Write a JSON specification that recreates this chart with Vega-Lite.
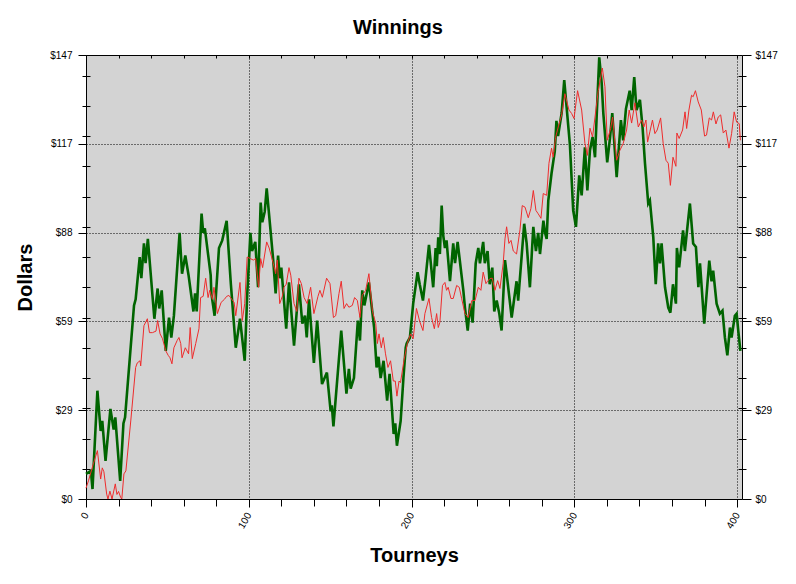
{
  "$schema": "https://vega.github.io/schema/vega-lite/v6.json",
  "width": 656,
  "height": 444,
  "autosize": {"type": "none"},
  "padding": {"left": 86, "top": 55, "right": 54, "bottom": 85},
  "background": "white",
  "view": {"fill": "#d3d3d3", "stroke": "#000000", "strokeWidth": 1},
  "title": {"text": "Winnings", "font": "Liberation Sans", "fontSize": 20, "fontWeight": "bold", "color": "#000000", "anchor": "middle", "frame": "group", "dx": -16, "offset": 12},
  "config": {
    "font": "Liberation Sans",
    "axis": {"labelFont": "Liberation Sans", "labelFontSize": 10, "labelColor": "#000000", "tickColor": "#000000", "tickWidth": 1, "domain": false, "titleFont": "Liberation Sans", "titleColor": "#000000"}
  },
  "datasets": {
    "green": [
      {"t":0,"v":8.3},{"t":3,"v":9.3},{"t":4,"v":3.3},{"t":7,"v":35.8},{"t":9,"v":22.5},{"t":10,"v":25.8},{"t":12,"v":12.6},{"t":15,"v":29.8},{"t":17,"v":23},{"t":18,"v":27},{"t":21,"v":6},{"t":23,"v":25},{"t":24,"v":27},{"t":29.5,"v":64},{"t":30.5,"v":66},{"t":33,"v":80},{"t":34,"v":73},{"t":35.6,"v":84.5},{"t":36.6,"v":78},{"t":38,"v":86},{"t":42,"v":59.6},{"t":44,"v":69.6},{"t":45,"v":63},{"t":46.5,"v":69},{"t":49,"v":49},{"t":51,"v":60},{"t":52.4,"v":53.4},{"t":54,"v":60.6},{"t":57.5,"v":88},{"t":59,"v":74.5},{"t":61,"v":80.5},{"t":63,"v":74},{"t":66,"v":62},{"t":67,"v":68},{"t":68,"v":62},{"t":71,"v":94.4},{"t":72,"v":88},{"t":73,"v":89.5},{"t":76.6,"v":74},{"t":77,"v":68},{"t":79,"v":60.6},{"t":81.7,"v":83},{"t":83.7,"v":85.5},{"t":86.4,"v":92},{"t":89,"v":71},{"t":92,"v":50},{"t":94.6,"v":59.6},{"t":97.5,"v":45.7},{"t":99,"v":67},{"t":101,"v":88},{"t":102,"v":82},{"t":104,"v":85},{"t":105.7,"v":70},{"t":107.3,"v":98},{"t":108.3,"v":91.5},{"t":109.8,"v":95},{"t":111,"v":102.7},{"t":113.5,"v":88},{"t":115,"v":79},{"t":116.5,"v":68},{"t":118,"v":80.5},{"t":119,"v":73},{"t":120,"v":76.5},{"t":123,"v":56.3},{"t":124.7,"v":71.6},{"t":127.8,"v":50.7},{"t":130.8,"v":71},{"t":132.9,"v":58},{"t":134.5,"v":60.6},{"t":135.6,"v":53.4},{"t":137,"v":66},{"t":140,"v":45},{"t":142,"v":59},{"t":145,"v":38},{"t":148,"v":41.8},{"t":150.3,"v":29},{"t":151,"v":31},{"t":152,"v":24},{"t":156.8,"v":55.7},{"t":160,"v":34.8},{"t":161.5,"v":43},{"t":162.6,"v":36.5},{"t":164.6,"v":40},{"t":167,"v":59},{"t":168.3,"v":52.4},{"t":169.7,"v":69},{"t":171,"v":64},{"t":173.8,"v":71.6},{"t":177,"v":56.7},{"t":178.5,"v":43.5},{"t":179.7,"v":47},{"t":181,"v":40},{"t":182.8,"v":45.7},{"t":185,"v":32.5},{"t":186.5,"v":41.4},{"t":189,"v":21.5},{"t":190,"v":25},{"t":191,"v":17.6},{"t":193.3,"v":25.8},{"t":195,"v":40},{"t":196.4,"v":50},{"t":197,"v":51.4},{"t":199,"v":53.4},{"t":201,"v":64.6},{"t":203.7,"v":75},{"t":205,"v":71},{"t":207,"v":65.6},{"t":208.6,"v":73},{"t":210.7,"v":84},{"t":213.3,"v":70},{"t":214.8,"v":83},{"t":215.5,"v":77},{"t":216.4,"v":86.5},{"t":217.4,"v":81},{"t":218.5,"v":97},{"t":219.5,"v":87},{"t":220.5,"v":83},{"t":221.5,"v":85.5},{"t":223.6,"v":72},{"t":225.6,"v":84.5},{"t":226.7,"v":78},{"t":228.3,"v":85},{"t":231.8,"v":69},{"t":232.8,"v":63.3},{"t":234.5,"v":55.7},{"t":236,"v":64.6},{"t":237.5,"v":58.3},{"t":239.4,"v":77.9},{"t":241,"v":83},{"t":242,"v":77.9},{"t":244,"v":85},{"t":245,"v":78},{"t":246.7,"v":82},{"t":248,"v":71},{"t":249.6,"v":76.5},{"t":250.8,"v":62},{"t":252.3,"v":65.6},{"t":253.9,"v":61.3},{"t":255.3,"v":55.7},{"t":257.4,"v":79},{"t":258.4,"v":74.5},{"t":261.5,"v":60},{"t":264.5,"v":72},{"t":265.5,"v":65.6},{"t":269.2,"v":91},{"t":270.7,"v":84.5},{"t":272.7,"v":70},{"t":274.8,"v":90},{"t":276.4,"v":82},{"t":277.8,"v":88},{"t":278.9,"v":81},{"t":281,"v":92},{"t":282,"v":88},{"t":283,"v":86},{"t":284,"v":98.7},{"t":286,"v":107.7},{"t":288,"v":115},{"t":289,"v":125},{"t":290,"v":120},{"t":292.2,"v":127.6},{"t":293.8,"v":138.5},{"t":297.3,"v":117},{"t":299.3,"v":95.4},{"t":301,"v":90},{"t":303,"v":107},{"t":304.5,"v":100.4},{"t":306.5,"v":116.3},{"t":308,"v":102},{"t":309.6,"v":115.3},{"t":311.2,"v":119.7},{"t":312.7,"v":113},{"t":313.7,"v":126.3},{"t":315.3,"v":146},{"t":316.8,"v":137.5},{"t":317.8,"v":127.6},{"t":320.2,"v":111.3},{"t":321.9,"v":119.3},{"t":323.3,"v":127.6},{"t":326,"v":106.4},{"t":328.6,"v":125.3},{"t":330,"v":118.6},{"t":331.7,"v":129},{"t":334,"v":135},{"t":335.2,"v":128.6},{"t":336.8,"v":139.5},{"t":338.2,"v":128.6},{"t":340.3,"v":132},{"t":341.9,"v":123},{"t":343.4,"v":111},{"t":345.4,"v":97.7},{"t":346.4,"v":98.7},{"t":348.5,"v":86.5},{"t":350,"v":71},{"t":351.5,"v":84.5},{"t":352.6,"v":77.9},{"t":353.6,"v":84.5},{"t":355.7,"v":70},{"t":357.7,"v":63.3},{"t":359,"v":61.6},{"t":360.6,"v":71},{"t":362.4,"v":64.6},{"t":363,"v":83},{"t":364.4,"v":76.6},{"t":366.8,"v":88.8},{"t":367.9,"v":82},{"t":371,"v":97.7},{"t":373,"v":84.5},{"t":374.7,"v":83.3},{"t":376.2,"v":70},{"t":377.2,"v":77.9},{"t":379.8,"v":58},{"t":382.9,"v":78.8},{"t":384.3,"v":72},{"t":385.3,"v":75.5},{"t":387.4,"v":64.6},{"t":389.4,"v":61.3},{"t":391,"v":62.3},{"t":392.5,"v":53.4},{"t":394,"v":47.5},{"t":395.6,"v":56.7},{"t":396.6,"v":53.4},{"t":398.6,"v":60.6},{"t":399.7,"v":61.3},{"t":400.7,"v":55.7},{"t":402,"v":49}
    ],
    "red": [
      {"t":0,"v":3.6},{"t":1.5,"v":6},{"t":4.5,"v":11.6},{"t":7,"v":16},{"t":9,"v":6.6},{"t":10,"v":10.3},{"t":11,"v":9},{"t":12.7,"v":1.6},{"t":13.5,"v":0},{"t":14.7,"v":2.6},{"t":16,"v":0},{"t":18,"v":5},{"t":19,"v":1.5},{"t":20,"v":2.5},{"t":21.3,"v":0.5},{"t":22,"v":0},{"t":23.3,"v":8.3},{"t":24.5,"v":9.3},{"t":27.5,"v":25.8},{"t":30.5,"v":43.5},{"t":31.5,"v":45},{"t":33.2,"v":45.7},{"t":33.6,"v":44},{"t":35.6,"v":57.3},{"t":37.7,"v":59.6},{"t":39,"v":55},{"t":40.8,"v":55},{"t":43,"v":55.5},{"t":44,"v":59},{"t":45.5,"v":54.6},{"t":47,"v":53},{"t":49,"v":49},{"t":50.5,"v":47.5},{"t":51.6,"v":46.7},{"t":52.8,"v":44.7},{"t":54,"v":50},{"t":56,"v":52.4},{"t":57.1,"v":53.4},{"t":58.2,"v":51.4},{"t":59,"v":46.7},{"t":61,"v":50},{"t":63,"v":48},{"t":64,"v":56.7},{"t":65.3,"v":46.4},{"t":67.4,"v":51.4},{"t":69.4,"v":56.3},{"t":70.4,"v":66.6},{"t":72,"v":67},{"t":73.5,"v":73},{"t":75,"v":66.6},{"t":76,"v":69},{"t":77.7,"v":66},{"t":78.6,"v":70},{"t":80.7,"v":61.3},{"t":83,"v":65},{"t":85,"v":66},{"t":86.4,"v":67},{"t":87.8,"v":67.3},{"t":91,"v":65},{"t":92,"v":60.6},{"t":94.6,"v":71.6},{"t":96,"v":59},{"t":97.5,"v":64.6},{"t":99,"v":80},{"t":102.8,"v":79},{"t":104.2,"v":79.5},{"t":106,"v":70},{"t":107.3,"v":79.5},{"t":108.5,"v":76.5},{"t":111,"v":85},{"t":112.5,"v":83},{"t":115,"v":78},{"t":116.5,"v":74.5},{"t":117.5,"v":79},{"t":119,"v":64.6},{"t":120.6,"v":67},{"t":121.6,"v":70},{"t":123,"v":71},{"t":124.7,"v":76.5},{"t":125.8,"v":74},{"t":127.8,"v":64.6},{"t":129.5,"v":62},{"t":130.8,"v":73},{"t":132.3,"v":71.2},{"t":134,"v":66.6},{"t":135.9,"v":64.6},{"t":138,"v":70},{"t":140,"v":61.3},{"t":142.5,"v":67},{"t":143.7,"v":69},{"t":145.2,"v":66.7},{"t":147.8,"v":73},{"t":149.9,"v":71.2},{"t":152,"v":60},{"t":153.4,"v":60.6},{"t":155.4,"v":67.9},{"t":156.8,"v":72},{"t":158.5,"v":63},{"t":160.1,"v":64.6},{"t":161.5,"v":63.4},{"t":163.6,"v":64},{"t":165,"v":66.6},{"t":166.7,"v":65.6},{"t":168.3,"v":60},{"t":169.7,"v":67.3},{"t":171.8,"v":69},{"t":173.8,"v":74.5},{"t":176,"v":62},{"t":178,"v":58},{"t":179,"v":51.4},{"t":180,"v":54.6},{"t":181.4,"v":50},{"t":182.6,"v":53.4},{"t":184,"v":48},{"t":185.5,"v":43.5},{"t":187.1,"v":45.7},{"t":188.8,"v":39},{"t":190,"v":39},{"t":191,"v":34},{"t":192.3,"v":39},{"t":193.2,"v":38.5},{"t":195.3,"v":45.7},{"t":197.4,"v":51.4},{"t":199.4,"v":54.6},{"t":201,"v":53},{"t":203,"v":63},{"t":205,"v":58.7},{"t":207,"v":55.7},{"t":208.2,"v":61.3},{"t":210.7,"v":66.3},{"t":212.3,"v":60},{"t":214,"v":56.3},{"t":215.4,"v":61.3},{"t":216.4,"v":56.7},{"t":217.4,"v":58.4},{"t":219,"v":70.6},{"t":220.5,"v":71.6},{"t":221.5,"v":69},{"t":222.5,"v":70},{"t":224.2,"v":66.3},{"t":225.6,"v":66.3},{"t":227.7,"v":70.6},{"t":229.3,"v":70},{"t":230.8,"v":66.2},{"t":232.8,"v":61.3},{"t":234.8,"v":60},{"t":237,"v":65.6},{"t":239,"v":65.6},{"t":241,"v":70},{"t":242.6,"v":69},{"t":244,"v":75},{"t":245.7,"v":71.2},{"t":246.7,"v":72},{"t":248.2,"v":72.9},{"t":249.6,"v":73},{"t":251.2,"v":69},{"t":252.9,"v":72.2},{"t":254.3,"v":69.6},{"t":256.3,"v":77.9},{"t":257.4,"v":86},{"t":258.4,"v":90},{"t":259.8,"v":84.5},{"t":261.1,"v":85.5},{"t":262.5,"v":82},{"t":264.5,"v":81},{"t":266.6,"v":89},{"t":268,"v":97},{"t":269.7,"v":96.5},{"t":271.7,"v":93},{"t":273.3,"v":96},{"t":274.8,"v":102},{"t":276.4,"v":95.4},{"t":277.8,"v":94.3},{"t":279.5,"v":92.8},{"t":280.9,"v":101},{"t":283,"v":100.4},{"t":284.4,"v":111},{"t":286,"v":116},{"t":287,"v":113},{"t":288.5,"v":119.6},{"t":290.1,"v":123},{"t":292.2,"v":127},{"t":294.2,"v":134},{"t":296.7,"v":128.6},{"t":298.3,"v":127.5},{"t":299.8,"v":125.8},{"t":302,"v":135},{"t":304.5,"v":128.6},{"t":306.5,"v":117.6},{"t":308,"v":113.6},{"t":309.6,"v":122.6},{"t":311.2,"v":119.7},{"t":312.7,"v":126.3},{"t":314.7,"v":135},{"t":317.2,"v":142.5},{"t":318.8,"v":136.3},{"t":320.2,"v":118.6},{"t":322.3,"v":122.5},{"t":323.5,"v":126.3},{"t":326,"v":112},{"t":328,"v":115.3},{"t":330,"v":117.5},{"t":332.1,"v":122},{"t":333.7,"v":128.6},{"t":335.2,"v":124.3},{"t":337.2,"v":131},{"t":339.3,"v":123},{"t":341.3,"v":125.3},{"t":342.7,"v":123},{"t":344,"v":125.3},{"t":345,"v":118},{"t":346.4,"v":121.4},{"t":348,"v":125.3},{"t":349.5,"v":120.8},{"t":350.9,"v":122},{"t":353,"v":126},{"t":354.6,"v":117.5},{"t":356.3,"v":112},{"t":357.7,"v":111},{"t":359,"v":103.7},{"t":360.6,"v":113},{"t":362.4,"v":110},{"t":363,"v":121},{"t":364.4,"v":119.2},{"t":366.5,"v":122},{"t":368,"v":128},{"t":369,"v":122.5},{"t":370.4,"v":128.6},{"t":372,"v":133.5},{"t":373,"v":133},{"t":374.4,"v":135},{"t":376.1,"v":131.3},{"t":378,"v":128.6},{"t":380,"v":120},{"t":381.2,"v":120.3},{"t":382.9,"v":126},{"t":384.3,"v":125.3},{"t":385.4,"v":128},{"t":387,"v":124},{"t":388.4,"v":126.3},{"t":389.9,"v":127},{"t":391.5,"v":121},{"t":393.1,"v":122},{"t":395,"v":116},{"t":396.6,"v":120.8},{"t":398.2,"v":128},{"t":399.7,"v":124.6},{"t":401.3,"v":124.1},{"t":402,"v":118.6}
    ]
  },
  "resolve": {"axis": {"x": "independent", "y": "independent"}},
  "layer": [
    {
      "data": {"name": "green"},
      "mark": {"type": "line", "color": "#006400", "strokeWidth": 2.6},
      "encoding": {
        "x": {"field": "t", "type": "quantitative", "scale": {"domain": [0, 403], "nice": false, "zero": false},
          "axis": {"orient": "bottom", "values": [0, 100, 200, 300, 400], "labelAngle": -60, "labelAlign": "right", "labelBaseline": "middle", "labelPadding": 6, "tickSize": 8, "grid": true, "gridColor": "#000000", "gridDash": [1, 2], "gridOpacity": 1, "gridWidth": 1, "title": "Tourneys", "titleFontSize": 20, "titleFontWeight": "bold", "titlePadding": 16}},
        "y": {"field": "v", "type": "quantitative", "scale": {"domain": [0, 146.8], "nice": false, "zero": false},
          "axis": {"orient": "left", "values": [0, 29.36, 58.72, 88.08, 117.44, 146.8], "format": "$.0f", "tickSize": 8, "labelPadding": 6, "grid": true, "gridColor": "#000000", "gridDash": [1, 2], "gridOpacity": 1, "gridWidth": 1, "title": "Dollars", "titleFontSize": 20, "titleFontWeight": "bold", "titlePadding": 14}}
      }
    },
    {
      "data": {"name": "red"},
      "mark": {"type": "line", "color": "#ee2c2c", "strokeWidth": 1},
      "encoding": {
        "x": {"field": "t", "type": "quantitative", "scale": {"domain": [0, 403], "nice": false, "zero": false},
          "axis": {"orient": "bottom", "values": [20, 40, 60, 80, 120, 140, 160, 180, 220, 240, 260, 280, 320, 340, 360, 380], "labels": false, "tickSize": 7, "grid": false, "title": null}},
        "y": {"field": "v", "type": "quantitative", "scale": {"domain": [0, 146.8], "nice": false, "zero": false},
          "axis": {"orient": "left", "values": [10, 20, 30, 40, 50, 60, 70, 80, 90, 100, 110, 120, 130, 140], "labels": false, "tickSize": 8, "offset": -4, "grid": false, "title": null}}
      }
    },
    {
      "data": {"name": "red"},
      "mark": {"type": "line", "strokeOpacity": 0},
      "encoding": {
        "x": {"field": "t", "type": "quantitative", "scale": {"domain": [0, 403], "nice": false, "zero": false},
          "axis": {"orient": "top", "values": [20, 40, 60, 80, 100, 120, 140, 160, 180, 200, 220, 240, 260, 280, 300, 320, 340, 360, 380, 400], "labels": false, "tickSize": 3, "offset": -3, "grid": false, "title": null}},
        "y": {"field": "v", "type": "quantitative", "scale": {"domain": [0, 146.8], "nice": false, "zero": false},
          "axis": {"orient": "right", "values": [0, 29.36, 58.72, 88.08, 117.44, 146.8], "format": "$.0f", "tickSize": 9, "labelPadding": 4, "grid": false, "title": null}}
      }
    },
    {
      "data": {"name": "red"},
      "mark": {"type": "line", "strokeOpacity": 0},
      "encoding": {
        "x": {"field": "t", "type": "quantitative", "scale": {"domain": [0, 403], "nice": false, "zero": false}, "axis": null},
        "y": {"field": "v", "type": "quantitative", "scale": {"domain": [0, 146.8], "nice": false, "zero": false},
          "axis": {"orient": "right", "values": [10, 20, 30, 40, 50, 60, 70, 80, 90, 100, 110, 120, 130, 140], "labels": false, "tickSize": 8, "offset": -4, "grid": false, "title": null}}
      }
    }
  ]
}
